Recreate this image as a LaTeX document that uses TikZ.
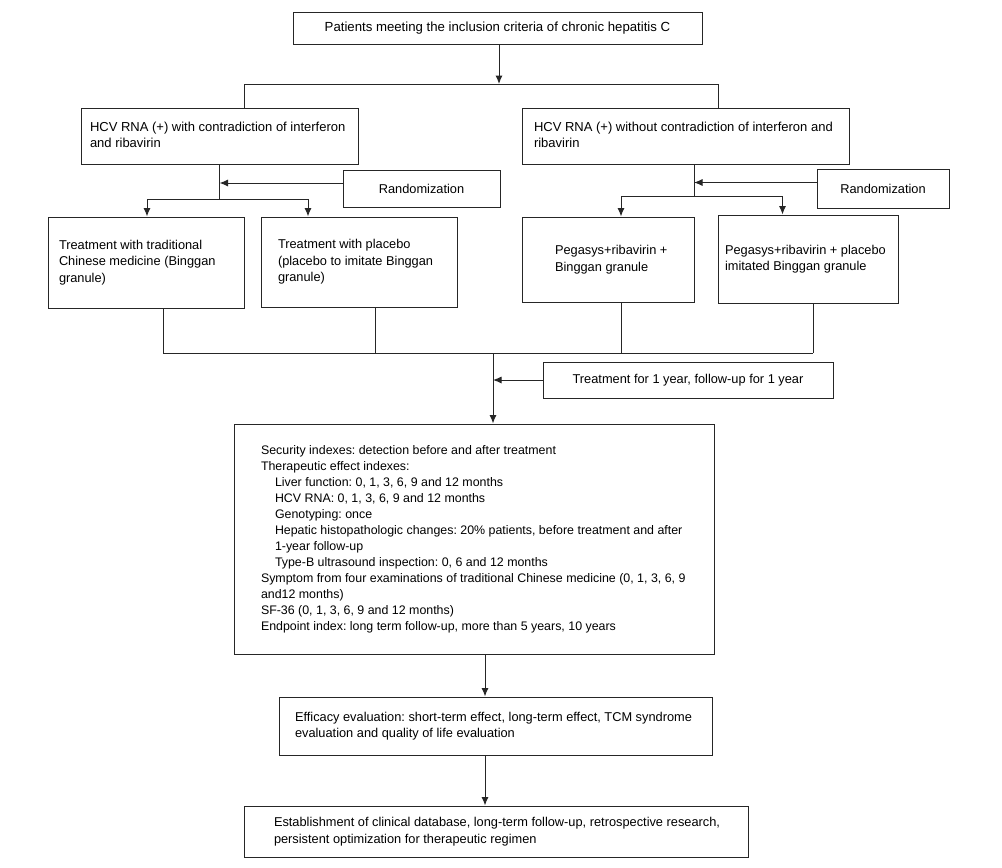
\documentclass[tikz,border=0pt]{standalone}
\usepackage{fontspec}
\setmainfont{Liberation Sans}
\usetikzlibrary{arrows.meta}
\frenchspacing
\newcommand{\fs}{\fontsize{12.8pt}{16.5pt}\selectfont}
\newcommand{\fsbig}{\fontsize{12.4pt}{16pt}\selectfont}
\newcommand{\fstop}{\fontsize{13.2pt}{16.5pt}\selectfont}
\newcommand{\fshcv}{\fontsize{13pt}{16.5pt}\selectfont}
\newcommand{\boxtext}[2]{\makebox[#1pt][l]{\begin{tabular}{@{}l@{}}#2\end{tabular}}}
\newcommand{\ind}{\hspace*{14pt}}
\begin{document}
\begin{tikzpicture}[x=1pt,y=-1pt,
  linec/.style={draw=black!85, line width=1pt},
  fbox/.style={linec, rectangle, inner sep=0pt, font=\fs, fill=white},
  conn/.style={linec},
  arr/.style={linec, -{Latex[length=8.5pt,width=7pt]}}]
\useasboundingbox (0,0) rectangle (1002,868);
\fill[white] (0,0) rectangle (1002,868);

% boxes
\node[fbox, font=\fstop, minimum width=409pt, minimum height=32pt] (top) at (497.5,28)
  {Patients meeting the inclusion criteria of chronic hepatitis C};
\node[fbox, font=\fshcv, minimum width=277pt, minimum height=56pt] (hcvL) at (219.5,136)
  {\boxtext{259}{HCV RNA (+) with contradiction of interferon\\and ribavirin}};
\node[fbox, font=\fshcv, minimum width=327pt, minimum height=56pt] (hcvR) at (685.5,136)
  {\boxtext{303}{HCV RNA (+) without contradiction of interferon and\\ribavirin}};
\node[fbox, minimum width=157pt, minimum height=37pt] (randL) at (421.5,188.5)
  {Randomization};
\node[fbox, minimum width=132pt, minimum height=39pt] (randR) at (883,188.5)
  {Randomization};
\node[fbox, minimum width=196pt, minimum height=91pt] (t1) at (146,262.5)
  {\boxtext{174}{Treatment with traditional\\Chinese medicine (Binggan\\granule)}};
\node[fbox, minimum width=196pt, minimum height=90pt] (t2) at (359,262)
  {\boxtext{162}{Treatment with placebo\\(placebo to imitate Binggan\\granule)}};
\node[fbox, minimum width=172pt, minimum height=85pt] (t3) at (608,259.5)
  {\boxtext{106}{Pegasys+ribavirin +\\Binggan granule}};
\node[fbox, minimum width=180pt, minimum height=88pt] (t4) at (808,259)
  {\boxtext{166}{Pegasys+ribavirin + placebo\\imitated Binggan granule}};
\node[fbox, minimum width=290pt, minimum height=36pt] (treat) at (688,380)
  {Treatment for 1 year, follow-up for 1 year};
\node[fbox, font=\fsbig, minimum width=480pt, minimum height=230pt] (big) at (474,539)
  {\boxtext{426}{Security indexes: detection before and after treatment\\
  Therapeutic effect indexes:\\
  \ind Liver function: 0, 1, 3, 6, 9 and 12 months\\
  \ind HCV RNA: 0, 1, 3, 6, 9 and 12 months\\
  \ind Genotyping: once\\
  \ind Hepatic histopathologic changes: 20\% patients, before treatment and after\\
  \ind 1-year follow-up\\
  \ind Type-B ultrasound inspection: 0, 6 and 12 months\\
  Symptom from four examinations of traditional Chinese medicine (0, 1, 3, 6, 9\\
  and12 months)\\
  SF-36 (0, 1, 3, 6, 9 and 12 months)\\
  Endpoint index: long term follow-up, more than 5 years, 10 years}};
\node[fbox, minimum width=433pt, minimum height=58pt] (eff) at (495.5,726)
  {\boxtext{401}{Efficacy evaluation: short-term effect, long-term effect, TCM syndrome\\evaluation and quality of life evaluation}};
\node[fbox, minimum width=504pt, minimum height=51pt] (final) at (496,831.5)
  {\boxtext{444}{Establishment of clinical database, long-term follow-up, retrospective research,\\persistent optimization for therapeutic regimen}};

% junction coordinates
\coordinate (sL) at (244,84);
\coordinate (sR) at (718.5,84);
\coordinate (topx) at (499,84);
\coordinate (jL) at (219.5,199);
\coordinate (jR) at (694,196);
\coordinate (bL1) at (147,199);
\coordinate (bL2) at (308,199);
\coordinate (bR1) at (621,196);
\coordinate (bR2) at (782.5,196);
\coordinate (m1) at (163,353);
\coordinate (m2) at (375,353);
\coordinate (m3) at (621,353);
\coordinate (m4) at (813,353);
\coordinate (mc) at (493,353);
\coordinate (e1) at (485,0);

% top split
\draw[arr] (top.south -| topx) -- (topx);
\draw[conn] (sL |- hcvL.north) -- (sL) -- (sR) -- (sR |- hcvR.north);

% left branch
\draw[conn] (hcvL.south) -- (jL);
\draw[arr] ([yshift=5.5pt]randL.west) -- ([yshift=5.5pt]randL.west -| jL);
\draw[conn] (bL1) -- (bL2);
\draw[arr] (bL1) -- (bL1 |- t1.north);
\draw[arr] (bL2) -- (bL2 |- t2.north);

% right branch
\draw[conn] (jR |- hcvR.south) -- (jR);
\draw[arr] ([yshift=6pt]randR.west) -- ([yshift=6pt]randR.west -| jR);
\draw[conn] (bR1) -- (bR2);
\draw[arr] (bR1) -- (bR1 |- t3.north);
\draw[arr] (bR2) -- (bR2 |- t4.north);

% merge
\draw[conn] (m1 |- t1.south) -- (m1);
\draw[conn] (m2 |- t2.south) -- (m2);
\draw[conn] (m3 |- t3.south) -- (m3);
\draw[conn] (m4 |- t4.south) -- (m4);
\draw[conn] (m1) -- (m4);
\draw[arr] (mc) -- (mc |- big.north);
\draw[arr] (treat.west) -- (treat.west -| mc);

% bottom
\draw[arr] (e1 |- big.south) -- (e1 |- eff.north);
\draw[arr] (e1 |- eff.south) -- (e1 |- final.north);
\end{tikzpicture}
\end{document}
